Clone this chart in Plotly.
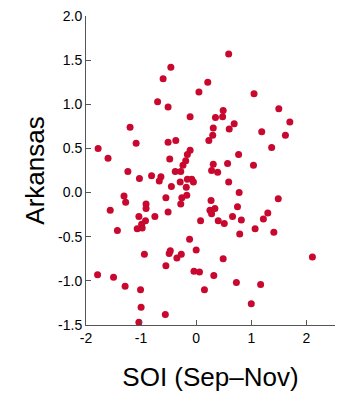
import plotly.graph_objects as go

soi = [0.59, -0.46, -0.60, 0.21, 0.05, 1.05, -0.70, -0.51, 1.50, 0.49,
       0.48, -0.11, 0.35, 1.70, 0.69, -1.20, 0.31, 0.60, 1.19, 0.30,
       1.62, 0.23, -0.37, -1.09, -0.51, 1.37, -1.78, -0.11, -0.16, 0.77,
       -1.60, -0.48, -0.19, 0.31, 0.57, 1.04, -0.24, -1.24, -0.38, -0.28,
       0.28, 0.39, -1.03, -0.81, -0.64, -0.67, -0.29, -0.16, -0.08, -0.05,
       0.59, -0.45, -0.18, 0.78, -0.17, -1.31, -0.55, -0.26, 1.49, -1.28,
       0.27, -0.28, -0.91, 0.75, -0.91, -1.56, 0.25, 0.34, -0.51, 1.30,
       0.28, -1.04, -0.75, 0.66, 1.22, 0.08, 0.40, 0.82, -0.92, 0.51,
       -0.99, 1.07, -1.07, -0.98, -1.43, 1.41, 0.79, -0.12, 0.00, -0.47,
       -0.49, -0.94, -0.27, -0.35, 2.11, 0.49, -0.55, -0.04, 0.06, -1.79,
       0.32, -1.50, 0.73, 1.17, -1.29, 0.15, -1.01, 1.00, -1.00, -0.56,
       -1.04]
arkansas = [1.57, 1.42, 1.29, 1.25, 1.14, 1.12, 1.03, 0.97, 0.95, 0.93,
            0.86, 0.86, 0.85, 0.80, 0.78, 0.74, 0.73, 0.72, 0.69, 0.65,
            0.65, 0.59, 0.59, 0.56, 0.57, 0.51, 0.50, 0.48, 0.43, 0.43,
            0.39, 0.38, 0.36, 0.32, 0.33, 0.31, 0.31, 0.24, 0.24, 0.24,
            0.25, 0.23, 0.16, 0.19, 0.18, 0.13, 0.12, 0.15, 0.15, 0.12,
            0.12, 0.07, 0.06, 0.00, -0.03, -0.04, -0.06, -0.06, -0.07, -0.11,
            -0.09, -0.13, -0.13, -0.16, -0.18, -0.20, -0.20, -0.18, -0.22, -0.23,
            -0.24, -0.27, -0.27, -0.27, -0.30, -0.32, -0.32, -0.31, -0.32, -0.35,
            -0.36, -0.41, -0.41, -0.40, -0.43, -0.45, -0.47, -0.53, -0.65, -0.66,
            -0.69, -0.70, -0.70, -0.74, -0.73, -0.75, -0.83, -0.89, -0.90, -0.93,
            -0.94, -0.96, -1.02, -1.04, -1.06, -1.10, -1.10, -1.26, -1.30, -1.38,
            -1.47]

x_ticks = [-2, -1, 0, 1, 2]
y_ticks = [-1.5, -1.0, -0.5, 0.0, 0.5, 1.0, 1.5, 2.0]
y_tick_labels = ["-1.5", "-1.0", "-0.5", "0.0", "0.5", "1.0", "1.5", "2.0"]

fig = go.Figure()
fig.add_trace(go.Scatter(
    x=soi, y=arkansas, mode="markers",
    marker=dict(color="#c8082e", size=7, line=dict(width=0)),
    cliponaxis=False,
))

font_family = "Liberation Sans, Arial, Helvetica, sans-serif"
# the page body adds an 8px offset, so margins are shifted to compensate
fig.update_layout(
    width=360, height=400,
    margin=dict(l=78, r=33, t=8, b=83),
    paper_bgcolor="white", plot_bgcolor="white",
    showlegend=False,
    font=dict(family=font_family, color="black", size=14),
)
fig.update_xaxes(
    range=[-2, 2.52], tickmode="array", tickvals=x_ticks,
    ticktext=[str(v) for v in x_ticks],
    showgrid=False, zeroline=False, showline=True, linecolor="#555", linewidth=1,
    ticks="inside", ticklen=5, tickcolor="#555",
    tickfont=dict(size=14), automargin=False, ticklabeloverflow="allow",
    title=dict(text="SOI (Sep–Nov)", font=dict(size=26), standoff=23),
)
fig.update_yaxes(
    range=[-1.5, 2.0], tickmode="array", tickvals=y_ticks, ticktext=y_tick_labels,
    showgrid=False, zeroline=False, showline=True, linecolor="#555", linewidth=1,
    ticks="inside", ticklen=5, tickcolor="#555",
    tickfont=dict(size=14), automargin=False, ticklabeloverflow="allow",
    title=dict(text="Arkansas", font=dict(size=26), standoff=5),
)

fig.write_html("out.html")
